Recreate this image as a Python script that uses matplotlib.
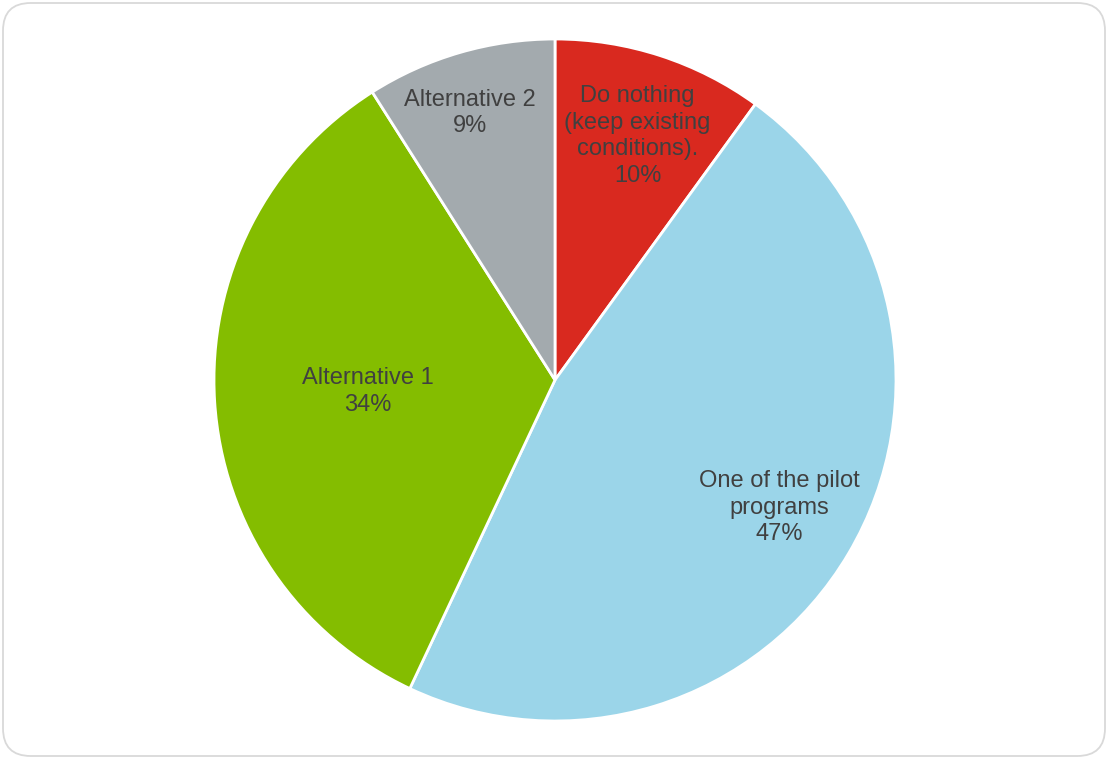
import matplotlib
matplotlib.use("Agg")
import matplotlib.pyplot as plt
from matplotlib.patches import FancyBboxPatch
import numpy as np

categories = ["Do nothing\n(keep existing\nconditions).", "One of the pilot\nprograms", "Alternative 1", "Alternative 2"]
shares = [10, 47, 34, 9]
colors = ["#D9291F", "#9BD5E9", "#84BD00", "#A3AAAE"]
# label placement: fraction of radius and small angular nudge (degrees)
label_radius = [0.755, 0.757, 0.55, 0.822]
label_nudge = [-0.7, 0.9, 0.0, 1.5]

plt.rcParams["font.family"] = ["Liberation Sans", "DejaVu Sans"]

W, H, DPI = 1108, 759, 100
fig = plt.figure(figsize=(W / DPI, H / DPI), dpi=DPI)
fig.patch.set_facecolor("white")

# rounded chart-area frame
frame = FancyBboxPatch((3 / W, 3 / H), (W - 6) / W, (H - 6) / H,
                       boxstyle="round,pad=0,rounding_size=0.025",
                       transform=fig.transFigure, facecolor="none",
                       edgecolor="#D9D9D9", linewidth=1.3, mutation_aspect=W / H,
                       zorder=-1)
fig.patches.append(frame)

cx, cy, r = 555, H - 380, 341
ax = fig.add_axes([(cx - r) / W, (cy - r) / H, 2 * r / W, 2 * r / H])
wedges, _ = ax.pie(shares, colors=colors, startangle=90, counterclock=False,
                   radius=1.0, wedgeprops=dict(edgecolor="white", linewidth=2))
ax.set_xlim(-1, 1)
ax.set_ylim(-1, 1)
ax.set_aspect("equal")
ax.axis("off")

for w, name, val, lr, nd in zip(wedges, categories, shares, label_radius, label_nudge):
    mid = np.deg2rad((w.theta1 + w.theta2) / 2 + nd)
    ax.text(lr * np.cos(mid), lr * np.sin(mid), f"{name}\n{val}%",
            ha="center", va="center", fontsize=17, color="#404040",
            linespacing=1.27)

fig.savefig("out.png", dpi=DPI)
